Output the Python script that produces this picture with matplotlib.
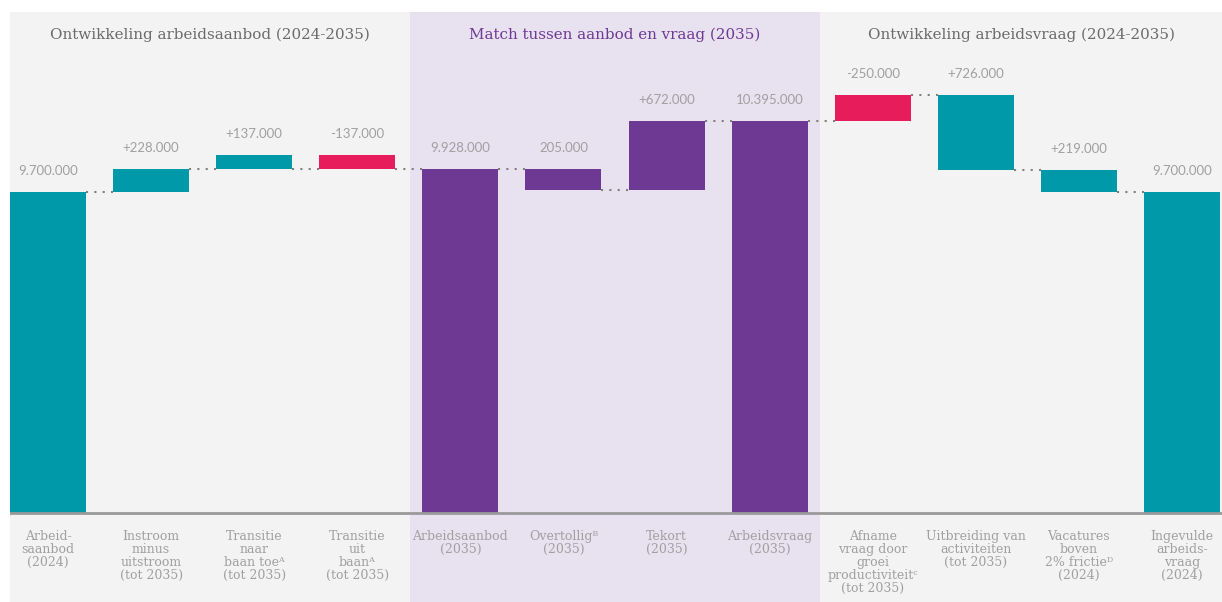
import matplotlib
matplotlib.use("Agg")
import matplotlib.pyplot as plt
import matplotlib.transforms as mtransforms

# data
labels = [
    "Arbeid-\nsaanbod\n(2024)",
    "Instroom\nminus\nuitstroom\n(tot 2035)",
    "Transitie\nnaar\nbaan toe\u1d2c\n(tot 2035)",
    "Transitie\nuit\nbaan\u1d2c\n(tot 2035)",
    "Arbeidsaanbod\n(2035)",
    "Overtollig\u1d2e\n(2035)",
    "Tekort\n(2035)",
    "Arbeidsvraag\n(2035)",
    "Afname\nvraag door\ngroei\nproductiviteit\u1d9c\n(tot 2035)",
    "Uitbreiding van\nactiviteiten\n(tot 2035)",
    "Vacatures\nboven\n2% frictie\u1d30\n(2024)",
    "Ingevulde\narbeids-\nvraag\n(2024)",
]
supply_start = 9700000
supply_steps = [228000, 137000, -137000]
supply_end = 9928000
overtollig = 205000
tekort = 672000
demand_end = 10395000
demand_start = 9700000
demand_steps = [-250000, 726000, 219000]  # read from right to left
value_labels = ["9.700.000", "+228.000", "+137.000", "-137.000", "9.928.000", "205.000",
                "+672.000", "10.395.000", "-250.000", "+726.000", "+219.000", "9.700.000"]
titles = ["Ontwikkeling arbeidsaanbod (2024-2035)", "Match tussen aanbod en vraag (2035)",
          "Ontwikkeling arbeidsvraag (2024-2035)"]

TEAL = "#0099a9"
RED = "#e61d5a"
PURPLE = "#6e3993"
BG = "#f3f3f3"
BG_MID = "#e8e1f0"

# build bar spans (low, high, colour)
v0 = 6572000
bars = [(v0, supply_start, TEAL)]
run = supply_start
for s in supply_steps:
    bars.append((min(run, run + s), max(run, run + s), TEAL if s > 0 else RED))
    run += s
bars.append((v0, supply_end, PURPLE))
bars.append((supply_end - overtollig, supply_end, PURPLE))
bars.append((supply_end - overtollig, supply_end - overtollig + tekort, PURPLE))
bars.append((v0, demand_end, PURPLE))
right = []
run = demand_start
for s in reversed(demand_steps):
    right.append((min(run, run + s), max(run, run + s), TEAL if s > 0 else RED))
    run += s
bars += list(reversed(right))
bars.append((v0, demand_start, TEAL))
# connector levels between bar i and i+1
links = [supply_start, supply_end, supply_end, supply_end, supply_end,
         supply_end - overtollig, demand_end, demand_end, demand_end + 250000,
         demand_start + 219000, demand_start]

fig = plt.figure(figsize=(12.22, 6.02), dpi=100)
fig.patch.set_facecolor("white")
ax = fig.add_axes([10 / 1222, 0, 1212 / 1222, 590 / 602])
ax.set_xlim(-0.3686, 11.388)
k = 1.026e-4
ax.set_ylim(v0 - 89 / k, v0 + 501 / k)
ax.axis("off")

ax.axvspan(-0.3686, 3.512, color=BG, lw=0, zorder=0)
ax.axvspan(3.512, 7.489, color=BG_MID, lw=0, zorder=0)
ax.axvspan(7.489, 11.388, color=BG, lw=0, zorder=0)

w = 0.737
for i, (lo, hi, c) in enumerate(bars):
    ax.bar(i, hi - lo, bottom=lo, width=w, color=c, zorder=2)
    ax.annotate(value_labels[i], (i, hi), xytext=(0, 15), textcoords="offset points",
                ha="center", va="center", fontsize=9.5, color="#a0a0a0", family="Lato")

for i, lv in enumerate(links):
    ax.plot([i + w / 2, i + 1 - w / 2], [lv, lv], color="#808080", lw=1.5,
            linestyle=(0, (1, 3)), zorder=1)

ax.axhline(v0, color="#9a9a9a", lw=2, zorder=3)

trans = mtransforms.blended_transform_factory(ax.transData, ax.transAxes)
for i, lab in enumerate(labels):
    ax.text(i, 0.1215, lab, transform=trans, ha="center", va="top", fontsize=9,
            color="#a0a0a0", family=["DejaVu Serif", "DejaVu Sans"], linespacing=1.0)

for x, t, c in zip([1.57, 5.5, 9.44], titles, ["#6b6b6b", PURPLE, "#6b6b6b"]):
    ax.text(x, 0.962, t, transform=trans, ha="center", va="center", fontsize=10.9,
            color=c, family="DejaVu Serif")

fig.savefig("out.png", dpi=100, facecolor="white")
